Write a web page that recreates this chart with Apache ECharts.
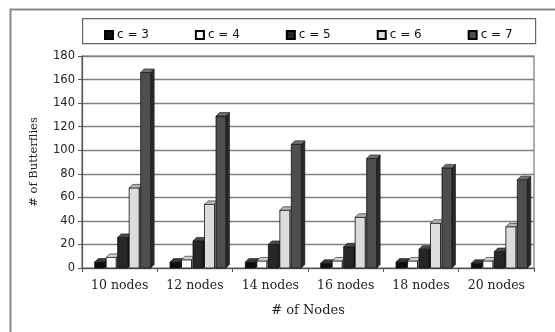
<!DOCTYPE html>
<html>
<head>
<meta charset="utf-8">
<script src="https://cdn.jsdelivr.net/npm/echarts@6/dist/echarts.min.js"></script>
<style>html,body{margin:0;padding:0;background:#fff}#c{width:555px;height:332px}</style>
</head>
<body>
<div id="c"></div>
<script>
var categories = ['10 nodes','12 nodes','14 nodes','16 nodes','18 nodes','20 nodes'];
var seriesNames = ['c = 3','c = 4','c = 5','c = 6','c = 7'];
var c3 = [5, 5, 5, 4, 5, 4];
var c4 = [9, 7, 6, 6, 6, 6];
var c5 = [26, 23, 20, 18, 16, 14];
var c6 = [68, 54, 49, 43, 38, 35];
var c7 = [166, 129, 105, 93, 85, 75];
var yTicks = [0,20,40,60,80,100,120,140,160,180];

var allData = [c3, c4, c5, c6, c7];
var fronts = ['#0d0d0d', '#fbfbfb', '#262626', '#dcdcdc', '#4e4e4e'];
var tops   = ['#3a3a3a', '#d0d0d0', '#4a4a4a', '#b5b5b5', '#707070'];
var sides  = ['#000000', '#9a9a9a', '#111111', '#a0a0a0', '#2a2a2a'];

function makeRender(k) {
  return function (params, api) {
    var idx = api.value(0), v = api.value(1);
    var base = api.coord([idx, 0]);
    var top = api.coord([idx, v]);
    var cx = base[0];
    var step = 11.5, fw = 10, d = 3.5;
    var x0 = cx - 25 + k * step, x1 = x0 + fw;
    var y0 = base[1], y1 = top[1];
    var stroke = '#111';
    return {
      type: 'group',
      children: [
        { type: 'polygon', shape: { points: [[x1, y1], [x1 + d, y1 - d], [x1 + d, y0 - d], [x1, y0]] },
          style: { fill: sides[k], stroke: stroke, lineWidth: 0.6 } },
        { type: 'rect', shape: { x: x0, y: y1, width: fw, height: y0 - y1 },
          style: { fill: fronts[k], stroke: stroke, lineWidth: 0.8 } },
        { type: 'polygon', shape: { points: [[x0, y1], [x0 + d, y1 - d], [x1 + d, y1 - d], [x1, y1]] },
          style: { fill: tops[k], stroke: stroke, lineWidth: 0.6 } }
      ]
    };
  };
}

var series = allData.map(function (arr, k) {
  return {
    name: seriesNames[k],
    type: 'custom',
    renderItem: makeRender(k),
    itemStyle: { color: fronts[k], borderColor: '#000', borderWidth: 1 },
    encode: { x: 0, y: 1 },
    data: arr.map(function (v, i) { return [i, v]; }),
    z: 3 + k
  };
});

var chart = echarts.init(document.getElementById('c'), null, { renderer: 'canvas' });
chart.setOption({
  animation: false,
  backgroundColor: '#ffffff',
  graphic: [
    { type: 'rect', left: 8, top: 7, shape: { width: 560, height: 340 },
      style: { fill: 'none', stroke: '#8a8a8a', lineWidth: 2 }, z: 0 },
    { type: 'rect', left: 82, top: 18, shape: { width: 453, height: 25 },
      style: { fill: '#fff', stroke: '#666', lineWidth: 1.2 }, z: 1 }
  ],
  legend: {
    left: 99, top: 24,
    itemWidth: 8, itemHeight: 8, itemGap: 46,
    icon: 'rect',
    textStyle: { fontFamily: 'DejaVu Sans', fontSize: 12, color: '#111', padding: [0, 0, 0, -1] },
    data: seriesNames,
    z: 10
  },
  grid: { left: 82, right: 21, top: 56, bottom: 64, show: true, borderColor: '#777', borderWidth: 1.2, backgroundColor: '#fff' },
  xAxis: {
    type: 'category',
    data: categories,
    name: '# of Nodes',
    nameLocation: 'middle',
    nameGap: 36,
    nameTextStyle: { fontFamily: 'DejaVu Serif', fontSize: 13, color: '#222' },
    axisLine: { lineStyle: { color: '#555', width: 1.2 } },
    axisTick: { show: true, length: 4, lineStyle: { color: '#555' } },
    axisLabel: { fontFamily: 'DejaVu Serif', fontSize: 12.5, color: '#222', margin: 11 },
    splitLine: { show: false }
  },
  yAxis: {
    type: 'value',
    min: 0, max: 180, interval: 20,
    name: '# of Butterflies',
    nameLocation: 'middle',
    nameGap: 42,
    nameTextStyle: { fontFamily: 'DejaVu Serif', fontSize: 11.5, color: '#222' },
    axisLine: { show: true, lineStyle: { color: '#555', width: 1.2 } },
    axisTick: { show: true, inside: false, length: 4, lineStyle: { color: '#555' } },
    axisLabel: { fontFamily: 'DejaVu Sans', fontSize: 11.5, color: '#222', margin: 7,
      formatter: function (v) { return yTicks.indexOf(v) >= 0 ? String(v) : ''; } },
    splitLine: { show: true, lineStyle: { color: '#808080', width: 1.4 } }
  },
  series: series
});
</script>
</body>
</html>
